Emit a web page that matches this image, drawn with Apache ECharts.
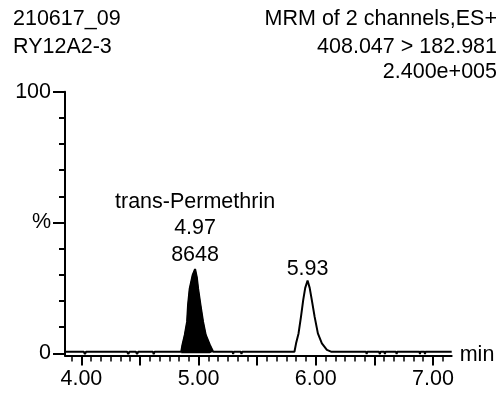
<!DOCTYPE html>
<html>
<head>
<meta charset="utf-8">
<script src="https://cdn.jsdelivr.net/npm/echarts@6/dist/echarts.min.js"></script>
<style>
  html, body { margin: 0; padding: 0; background: #fff; }
  #chart { width: 503px; height: 394px; }
</style>
</head>
<body>
<div id="chart"></div>
<script>
// Chromatogram header
const sampleInfo = ['210617_09', 'RY12A2-3'];
const scanInfo = ['MRM of 2 channels,ES+', '408.047 > 182.981', '2.400e+005'];

// Retention time axis (min)
const rtMin = 3.86, rtMax = 7.16;
const rtLabelTicks = [4, 5, 6, 7];
const rtMajorTicks = [4, 4.5, 5, 5.5, 6, 6.5, 7];

// Relative intensity axis (%)
const intensityTicks = [0, 10, 20, 30, 40, 50, 60, 70, 80, 90, 100];
const intensityLabelTicks = [0, 50, 100];

// Trace: retention time (min) and relative intensity (%)
const traceTime = [
  3.86, 4.02, 4.03, 4.04, 4.39, 4.40, 4.41, 4.465, 4.475, 4.485, 4.61, 4.617, 4.625,
  4.852, 4.862, 4.882, 4.902, 4.910, 4.924, 4.95, 4.97, 4.985, 4.996, 5.016, 5.038, 5.061, 5.096, 5.124,
  5.29, 5.295, 5.30, 5.36, 5.366, 5.372,
  5.818, 5.832, 5.853, 5.874, 5.893, 5.91, 5.93, 5.948, 5.966, 5.99, 6.018, 6.052, 6.095, 6.13,
  6.43, 6.434, 6.44, 6.54, 6.547, 6.553, 6.585, 6.59, 6.595, 6.685, 6.69, 6.695,
  6.885, 6.889, 6.893, 6.928, 6.932, 6.936, 7.16
];
const traceIntensity = [
  0.6, 0.6, -0.3, 0.6, 0.6, -0.3, 0.6, 0.6, -0.3, 0.6, 0.6, -0.3, 0.6,
  0.6, 3.2, 7.0, 12.1, 18.5, 24.7, 30.0, 32.2, 29.0, 24.7, 18.5, 12.1, 7.0, 3.2, 0.6,
  0.6, -0.3, 0.6, 0.6, -0.3, 0.6,
  0.6, 3.8, 7.6, 14.0, 20.4, 25.0, 27.8, 25.0, 20.4, 14.0, 7.6, 3.8, 1.3, 0.6,
  0.6, -0.3, 0.6, 0.6, -0.3, 0.6, 0.6, -0.3, 0.6, 0.6, -0.3, 0.6,
  0.6, -0.3, 0.6, 0.6, -0.3, 0.6, 0.6
];

// Integrated peak (filled) and annotations
const peakName = 'trans-Permethrin';
const peakRt = 4.97;
const peakArea = 8648;
const peakStart = 4.852, peakEnd = 5.124;
const secondPeakRt = 5.93;

const FONT = 'Liberation Sans, Arial, sans-serif';
const FS = 21.5;
const ink = '#000';

const rtMinorTicks = [];
for (let k = Math.ceil(rtMin * 12); k <= Math.floor(rtMax * 12); k++) {
  if (k % 6 !== 0) rtMinorTicks.push(+(k / 12).toFixed(4));
}

const traceData = traceTime.map((t, i) => [t, traceIntensity[i]]);
const fillData = traceData.filter(p => p[0] >= peakStart && p[0] <= peakEnd);
const apexOf = rt => traceIntensity[traceTime.indexOf(rt)];

const labelStyle = { fontFamily: FONT, fontSize: FS, color: ink, lineHeight: 26.5 };

const chart = echarts.init(document.getElementById('chart'), null, { renderer: 'canvas' });

const headerText = (x, y, text, align) => ({
  type: 'text',
  style: { x, y, text, textAlign: align, textVerticalAlign: 'middle', font: FS + 'px ' + FONT, fill: ink }
});

chart.setOption({
  animation: false,
  backgroundColor: '#fff',
  textStyle: { fontFamily: FONT },
  grid: { left: 65, top: 91.7, right: 51.3, bottom: 38.5 },
  graphic: [
    headerText(13, 19.5, sampleInfo[0], 'left'),
    headerText(13, 47, sampleInfo[1], 'left'),
    headerText(497, 19.5, scanInfo[0], 'right'),
    headerText(497, 47, scanInfo[1], 'right'),
    headerText(497, 72.5, scanInfo[2], 'right')
  ],
  xAxis: [
    {
      type: 'value', min: rtMin, max: rtMax, position: 'bottom',
      axisLine: { onZero: false, lineStyle: { color: ink, width: 2 } },
      axisTick: { customValues: rtMajorTicks, length: 10, lineStyle: { color: ink, width: 2 } },
      axisLabel: { customValues: rtLabelTicks, margin: 13, color: ink, fontSize: FS, fontFamily: FONT,
        formatter: v => v.toFixed(2) },
      splitLine: { show: false },
      name: 'min', nameLocation: 'end', nameGap: 8,
      nameTextStyle: { color: ink, fontSize: FS, fontFamily: FONT, verticalAlign: 'middle', padding: [3, 0, 0, 0] }
    },
    {
      type: 'value', min: rtMin, max: rtMax, position: 'bottom',
      axisLine: { show: false, onZero: false },
      axisTick: { customValues: rtMinorTicks, length: 6, lineStyle: { color: ink, width: 1.5 } },
      axisLabel: { show: false },
      splitLine: { show: false }
    }
  ],
  yAxis: [
    {
      type: 'value', min: -0.85, max: 100, position: 'left',
      axisLine: { show: true, lineStyle: { color: ink, width: 2 } },
      axisTick: { customValues: intensityTicks, length: 6, lineStyle: { color: ink, width: 2 } },
      axisLabel: { customValues: intensityLabelTicks, margin: 14, color: ink, fontSize: FS, fontFamily: FONT,
        formatter: v => (v === 50 ? '%' : String(v)) },
      splitLine: { show: false }
    },
    {
      type: 'value', min: -0.85, max: 100, position: 'left',
      axisLine: { show: false },
      axisTick: { customValues: intensityLabelTicks, length: 12, lineStyle: { color: ink, width: 2 } },
      axisLabel: { show: false },
      splitLine: { show: false }
    }
  ],
  series: [
    {
      type: 'line', name: peakName, xAxisIndex: 0, yAxisIndex: 0,
      data: fillData, symbol: 'none',
      lineStyle: { width: 1, color: ink },
      areaStyle: { color: ink, opacity: 1 },
      markPoint: {
        symbol: 'circle', symbolSize: 0, silent: true,
        label: Object.assign({ show: true, position: 'top', distance: 1,
          formatter: peakName + '\n' + peakRt.toFixed(2) + '\n' + peakArea }, labelStyle),
        data: [{ coord: [peakRt, apexOf(peakRt)] }]
      },
      z: 3
    },
    {
      type: 'line', name: 'trace', xAxisIndex: 0, yAxisIndex: 0,
      data: traceData, symbol: 'none',
      lineStyle: { width: 2, color: ink },
      markPoint: {
        symbol: 'circle', symbolSize: 0, silent: true,
        label: Object.assign({ show: true, position: 'top', distance: -2,
          formatter: secondPeakRt.toFixed(2) }, labelStyle),
        data: [{ coord: [secondPeakRt, apexOf(secondPeakRt)] }]
      },
      z: 4
    }
  ]
});
</script>
</body>
</html>
